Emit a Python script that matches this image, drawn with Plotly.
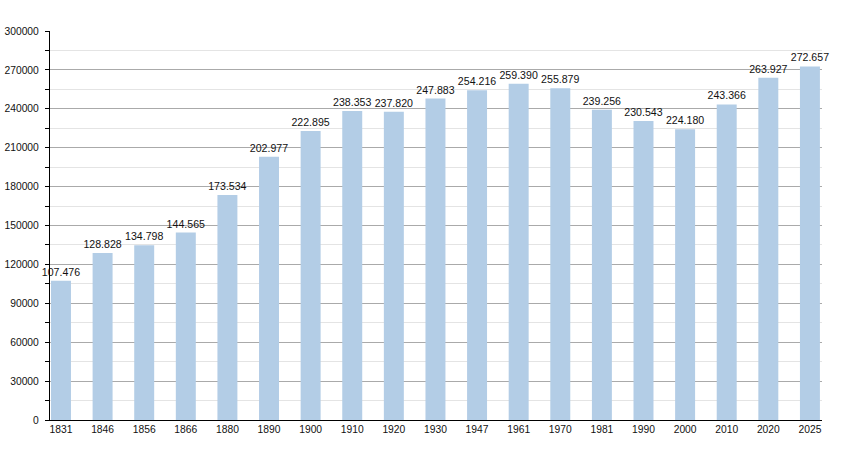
import plotly.graph_objects as go

years = ["1831", "1846", "1856", "1866", "1880", "1890", "1900", "1910", "1920", "1930",
         "1947", "1961", "1970", "1981", "1990", "2000", "2010", "2020", "2025"]
population = [107476, 128828, 134798, 144565, 173534, 202977, 222895, 238353, 237820, 247883,
              254216, 259390, 255879, 239256, 230543, 224180, 243366, 263927, 272657]
labels = [f"{v:,}".replace(",", ".") for v in population]
yticks = list(range(0, 300001, 30000))

fig = go.Figure()
fig.add_trace(go.Bar(
    x=years, y=population, text=labels, textposition="outside",
    textangle=0, constraintext="none",
    textfont=dict(family="Liberation Sans, Arial", size=10.6, color="#111"),
    marker=dict(color="#b3cde6", line=dict(width=0)),
    width=0.48, cliponaxis=False,
))
fig.update_layout(
    width=850, height=450,
    margin=dict(l=50, r=28, t=31, b=30, autoexpand=False),
    plot_bgcolor="white", paper_bgcolor="white",
    font=dict(family="Liberation Sans, Arial", size=10.3, color="#111"),
    showlegend=False,
    uniformtext=dict(minsize=10, mode="show"),
    xaxis=dict(type="category", range=[-0.264, 18.29], showgrid=False, automargin=False,
               showline=True, linecolor="black", linewidth=1.2, ticks="",
               tickfont=dict(size=10.3)),
    yaxis=dict(range=[0, 300000], tickvals=yticks,
               ticktext=[str(v) for v in yticks], automargin=False,
               showgrid=True, gridcolor="#aaaaaa", gridwidth=1,
               showline=True, linecolor="black", linewidth=1.2,
               ticks="outside", ticklen=4, tickcolor="black",
               ticklabelstandoff=4,
               zeroline=False,
               minor=dict(tickvals=list(range(15000, 300000, 30000)), showgrid=True,
                          gridcolor="#e4e4e4", ticks="outside", ticklen=4, tickcolor="black"),
               tickfont=dict(size=10.3)),
)
fig.write_html("out.html", config={"displayModeBar": False},
               post_script="document.body.style.margin='0';document.body.style.padding='0';")
